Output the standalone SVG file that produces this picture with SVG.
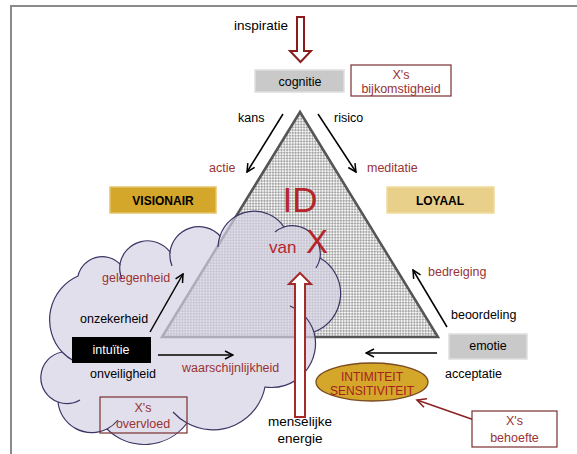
<svg xmlns="http://www.w3.org/2000/svg" width="577" height="454" viewBox="0 0 577 454">
<defs>
<style>
text{font-family:"Liberation Sans",Arial,sans-serif;font-size:12.5px;fill:#000}
.red{fill:#993333}
.mid{text-anchor:middle}
.box{fill:#fff;stroke:#7a3030;stroke-width:1.2}
.gray{fill:#c9c9c9;stroke:#dedede;stroke-width:1.5}
.conn{fill:none;stroke:#000;stroke-width:1.5}
.inner{fill:none;stroke:#3b3565;stroke-width:1.2}
.big{fill:#b5262b}
</style>
<pattern id="hatch" width="4" height="4" patternUnits="userSpaceOnUse" patternTransform="rotate(45)">
<rect width="4" height="4" fill="#a8a8a8"/>
<rect width="2" height="2" fill="#f4f4f4"/>
<rect x="2" y="2" width="2" height="2" fill="#f4f4f4"/>
</pattern>
<marker id="ah" markerWidth="10" markerHeight="10" refX="9" refY="5" orient="auto" markerUnits="userSpaceOnUse">
<path d="M1,1 L9,5 L1,9" fill="none" stroke="#000" stroke-width="1.5"/>
</marker>
<marker id="ahr" markerWidth="12" markerHeight="12" refX="10" refY="6" orient="auto" markerUnits="userSpaceOnUse">
<path d="M1,1.5 L10,6 L1,10.5" fill="none" stroke="#8b2323" stroke-width="1.6"/>
</marker>
</defs>
<rect width="577" height="454" fill="#fff"/>
<g id="frame">
<path d="M11,454 L11,6 L577,6" fill="none" stroke="#8a8a8a" stroke-width="2"/>
</g>
<g id="triangle">
<polygon points="300,112 438,337 162,337" fill="url(#hatch)" stroke="#555" stroke-width="2.5" stroke-linejoin="miter"/>
</g>
<g id="cloud">
<path d="M58,402 A26,26 0 0 1 62,352 A48,48 0 0 1 78,276 A25,25 0 0 1 120,264 A28,28 0 0 1 170,252 A29,29 0 0 1 220,236 A36,36 0 0 1 284,227 A28,28 0 0 1 320,258 A41,41 0 0 1 314,332 A44,44 0 0 1 265,387 A53,53 0 0 1 187,423 A53,53 0 0 1 107,429 A34,34 0 0 1 58,402 Z" fill="#d6d1e4" fill-opacity="0.7" stroke="#3b3565" stroke-width="1.2"/>
<path class="inner" d="M58,402 A26,26 0 0 0 80,400"/>
<path class="inner" d="M62,352 A48,48 0 0 0 74,361"/>
<path class="inner" d="M120,264 A28,28 0 0 0 122,279"/>
<path class="inner" d="M170,252 A29,29 0 0 0 172,266"/>
<path class="inner" d="M220,236 A36,36 0 0 0 218,247"/>
<path class="inner" d="M284,227 A28,28 0 0 0 275,232"/>
<path class="inner" d="M320,258 A28,28 0 0 1 316,268"/>
<path class="inner" d="M314,332 A44,44 0 0 0 290,306"/>
<path class="inner" d="M187,423 A53,53 0 0 1 173,412"/>
<path class="inner" d="M107,429 A34,34 0 0 0 118,420"/>
</g>
<g id="connectors">
<line class="conn" x1="283" y1="114" x2="247" y2="172" marker-end="url(#ah)"/>
<line class="conn" x1="318" y1="114" x2="356" y2="172" marker-end="url(#ah)"/>
<line class="conn" x1="150" y1="332" x2="183" y2="274" marker-end="url(#ah)"/>
<line class="conn" x1="158" y1="355" x2="233" y2="355" marker-end="url(#ah)"/>
<line class="conn" x1="447" y1="327" x2="413" y2="270" marker-end="url(#ah)"/>
<line class="conn" x1="437" y1="353" x2="366" y2="353" marker-end="url(#ah)"/>
<line x1="480" y1="422" x2="417" y2="400" stroke="#8b2323" stroke-width="1.6" marker-end="url(#ahr)"/>
<polygon id="inspiratie-arrow" points="297,17 304,17 304,51 311,51 300.5,62 290,51 297,51" fill="#fff" stroke="#8b1c1c" stroke-width="2"/>
<polygon id="energie-arrow" points="300,273 311,284 305,284 305,417 295,417 295,284 289,284" fill="#fff" stroke="#a52a2a" stroke-width="2"/>
</g>
<g id="id-text">
<text class="big mid" x="300" y="212" style="font-size:35px">ID</text>
<text class="big" x="269" y="253" style="font-size:17px">van</text>
<text class="big" x="306" y="253" style="font-size:33px">X</text>
</g>
<g id="inspiratie"><text x="288" y="30" text-anchor="end" style="font-size:13.5px">inspiratie</text></g>
<g id="cognitie">
<rect class="gray" x="255" y="70" width="89" height="22"/>
<text class="mid" x="300" y="86">cognitie</text>
</g>
<g id="bijkomstigheid">
<rect class="box" x="351" y="65" width="100" height="31"/>
<text class="red mid" x="401" y="79">X's</text>
<text class="red mid" x="401" y="93">bijkomstigheid</text>
</g>
<g id="kans"><text x="238" y="122">kans</text></g>
<g id="risico"><text x="334" y="122">risico</text></g>
<g id="actie"><text class="red" x="209" y="172">actie</text></g>
<g id="meditatie"><text class="red" x="367" y="172">meditatie</text></g>
<g id="visionair">
<rect x="110" y="187" width="106" height="26" fill="#d4a62a" stroke="#e6c46a" stroke-width="1.5"/>
<text class="mid" x="163" y="205" style="font-weight:bold;font-size:12px">VISIONAIR</text>
</g>
<g id="loyaal">
<rect x="387" y="187" width="107" height="26" fill="#e8d08a" stroke="#f0dca0" stroke-width="1.5"/>
<text class="mid" x="440" y="205" style="font-weight:bold;font-size:12px">LOYAAL</text>
</g>
<g id="gelegenheid"><text class="red" x="102" y="282">gelegenheid</text></g>
<g id="onzekerheid"><text x="80" y="323">onzekerheid</text></g>
<g id="intuitie">
<rect x="72" y="337" width="79" height="26" fill="#000"/>
<text class="mid" x="111" y="354" style="fill:#fff">intuïtie</text>
</g>
<g id="onveiligheid"><text x="90" y="378">onveiligheid</text></g>
<g id="waarschijnlijkheid"><text class="red" x="182" y="372">waarschijnlijkheid</text></g>
<g id="overvloed">
<rect x="100" y="397" width="87" height="36" fill="none" stroke="#7a3030" stroke-width="1.2"/>
<text class="red mid" x="143" y="412">X's</text>
<text class="red mid" x="143" y="428">overvloed</text>
</g>
<g id="energie">
<text class="mid" x="300" y="426" style="font-size:13.5px">menselijke</text>
<text class="mid" x="300" y="443" style="font-size:13.5px">energie</text>
</g>
<g id="bedreiging"><text class="red" x="428" y="276">bedreiging</text></g>
<g id="beoordeling"><text x="451" y="319">beoordeling</text></g>
<g id="emotie">
<rect class="gray" x="449" y="334" width="78" height="25"/>
<text class="mid" x="488" y="350">emotie</text>
</g>
<g id="acceptatie"><text x="445" y="378">acceptatie</text></g>
<g id="intimiteit">
<ellipse cx="372" cy="382" rx="56" ry="19" fill="#d4a62a" stroke="#7a4a20" stroke-width="1.3"/>
<text class="mid" x="372" y="381" style="fill:#a52020;font-size:12px">INTIMITEIT</text>
<text class="mid" x="372" y="395" style="fill:#a52020;font-size:12px">SENSITIVITEIT</text>
</g>
<g id="behoefte">
<rect class="box" x="472" y="411" width="85" height="36"/>
<text class="red mid" x="514.5" y="425">X's</text>
<text class="red mid" x="514.5" y="442">behoefte</text>
</g>
</svg>
